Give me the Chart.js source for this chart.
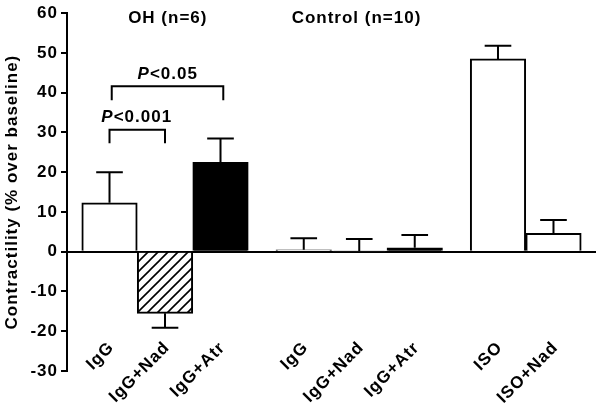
<!DOCTYPE html>
<html>
<head>
<meta charset="utf-8">
<script src="https://cdn.jsdelivr.net/npm/chart.js@4"></script>
<style>
  html, body { margin: 0; padding: 0; background: #fff; }
</style>
</head>
<body>
<canvas id="chart" width="600" height="409"></canvas>
<script>
// bar data (x positions in bar-width units, gaps between groups are half a bar)
const labels = ['IgG', 'IgG+Nad', 'IgG+Atr', 'IgG', 'IgG+Nad', 'IgG+Atr', 'ISO', 'ISO+Nad'];
const positions = [0, 1, 2, 3.5, 4.5, 5.5, 7, 8];
const means = [12.3, -15.5, 22.5, 0.5, 0.2, 1.0, 48.5, 4.6];
const sems = [7.7, 3.6, 6.0, 2.9, 3.0, 3.2, 3.3, 3.4];
const fills = ['white', 'hatch', 'black', 'white', 'white', 'black', 'white', 'white'];

// group headers
const groupTitles = ['OH (n=6)', 'Control (n=10)'];
const groupTitleX = [1.05, 4.45];
const groupTitleY = 58.6;

// significance brackets
const bracket1 = [{x: 0, y: 27.3}, {x: 0, y: 30.7}, {x: 1, y: 30.7}, {x: 1, y: 27.3}];
const bracket2 = [{x: 0.04, y: 38.1}, {x: 0.04, y: 41.6}, {x: 2.05, y: 41.6}, {x: 2.05, y: 38.1}];
const pLabels = ['<0.001', '<0.05'];
const pLabelX = [0.49, 1.05];
const pLabelY = [33.9, 44.7];

const FONT = 'bold 17px "Liberation Sans", Arial, sans-serif';
const ITALIC = 'italic bold 17px "Liberation Sans", Arial, sans-serif';

const canvas = document.getElementById('chart');
const ctx0 = canvas.getContext('2d');

function makeHatch() {
    const c = document.createElement('canvas');
    c.width = 10; c.height = 10;
    const g = c.getContext('2d');
    g.fillStyle = '#fff';
    g.fillRect(0, 0, 10, 10);
    g.strokeStyle = '#000';
    g.lineWidth = 1.6;
    g.beginPath();
    g.moveTo(0, 10); g.lineTo(10, 0);
    g.moveTo(-1, 1); g.lineTo(1, -1);
    g.moveTo(9, 11); g.lineTo(11, 9);
    g.stroke();
    return ctx0.createPattern(c, 'repeat');
}
const hatch = makeHatch();

const spacing = {
    id: 'spacing',
    beforeUpdate(chart) { chart.ctx.letterSpacing = '1px'; },
    beforeDraw(chart) { chart.ctx.letterSpacing = '1px'; }
};

const errorBars = {
    id: 'errorBars',
    afterDatasetsDraw(chart) {
        const { ctx, scales: { x, y } } = chart;
        const capHalf = x.getPixelForValue(0.24) - x.getPixelForValue(0);
        ctx.save();
        ctx.strokeStyle = '#000';
        ctx.lineWidth = 2;
        means.forEach((m, i) => {
            const px = x.getPixelForValue(positions[i]);
            const end = m < 0 ? m - sems[i] : m + sems[i];
            const y0 = y.getPixelForValue(m);
            const y1 = y.getPixelForValue(end);
            ctx.beginPath();
            ctx.moveTo(px, y0);
            ctx.lineTo(px, y1);
            ctx.moveTo(px - capHalf, y1);
            ctx.lineTo(px + capHalf, y1);
            ctx.stroke();
        });
        ctx.restore();
    }
};

const texts = {
    id: 'texts',
    afterDraw(chart) {
        const { ctx, scales: { x, y }, chartArea } = chart;
        ctx.save();
        ctx.fillStyle = '#000';
        ctx.letterSpacing = '1px';
        ctx.font = FONT;
        ctx.textAlign = 'center';
        ctx.textBaseline = 'middle';

        // group headers
        groupTitles.forEach((t, i) => {
            ctx.fillText(t, x.getPixelForValue(groupTitleX[i]), y.getPixelForValue(groupTitleY));
        });

        // P values, italic P
        ctx.textAlign = 'left';
        pLabels.forEach((t, i) => {
            ctx.font = ITALIC;
            const wP = ctx.measureText('P').width;
            ctx.font = FONT;
            const wR = ctx.measureText(t).width;
            const left = x.getPixelForValue(pLabelX[i]) - (wP + wR) / 2;
            const py = y.getPixelForValue(pLabelY[i]);
            ctx.font = ITALIC;
            ctx.fillText('P', left, py);
            ctx.font = FONT;
            ctx.fillText(t, left + wP, py);
        });

        // rotated category labels
        ctx.textAlign = 'right';
        labels.forEach((t, i) => {
            ctx.save();
            ctx.translate(x.getPixelForValue(positions[i]) + 2, chartArea.bottom - 26);
            ctx.rotate(-Math.PI / 4);
            ctx.fillText(t, 0, 0);
            ctx.restore();
        });
        ctx.restore();
    }
};

new Chart(canvas, {
    type: 'bar',
    data: {
        datasets: [
            {
                type: 'bar',
                data: positions.map((p, i) => ({ x: p, y: means[i] })),
                backgroundColor: fills.map(f => f === 'hatch' ? hatch : (f === 'black' ? '#000' : '#fff')),
                borderColor: '#000',
                borderWidth: 2,
                barPercentage: 1,
                categoryPercentage: 1
            },
            {
                type: 'line',
                data: bracket1,
                borderColor: '#000',
                borderWidth: 2,
                pointRadius: 0,
                fill: false
            },
            {
                type: 'line',
                data: bracket2,
                borderColor: '#000',
                borderWidth: 2,
                pointRadius: 0,
                fill: false
            }
        ]
    },
    options: {
        responsive: false,
        animation: false,
        devicePixelRatio: 1,
        layout: { padding: { top: 11, right: 4, bottom: 38, left: 0 } },
        plugins: { legend: { display: false }, tooltip: { enabled: false } },
        scales: {
            x: {
                type: 'linear',
                display: false,
                min: -0.766,
                max: 8.766,
                offset: false
            },
            y: {
                min: -30,
                max: 60,
                afterFit: (scale) => { scale.width = 67; },
                ticks: {
                    stepSize: 10,
                    color: '#000',
                    padding: 3,
                    font: { family: '"Liberation Sans", Arial, sans-serif', size: 17, weight: 'bold' }
                },
                grid: {
                    color: (c) => c.tick && c.tick.value === 0 ? '#000' : 'rgba(0,0,0,0)',
                    lineWidth: 2,
                    tickColor: '#000',
                    tickLength: 6,
                    tickWidth: 2
                },
                border: { display: true, color: '#000', width: 2 },
                title: {
                    display: true,
                    text: 'Contractility (% over baseline)',
                    color: '#000',
                    padding: { top: 2, bottom: 0 },
                    font: { family: '"Liberation Sans", Arial, sans-serif', size: 17, weight: 'bold' }
                }
            }
        }
    },
    plugins: [spacing, errorBars, texts]
});
</script>
</body>
</html>
